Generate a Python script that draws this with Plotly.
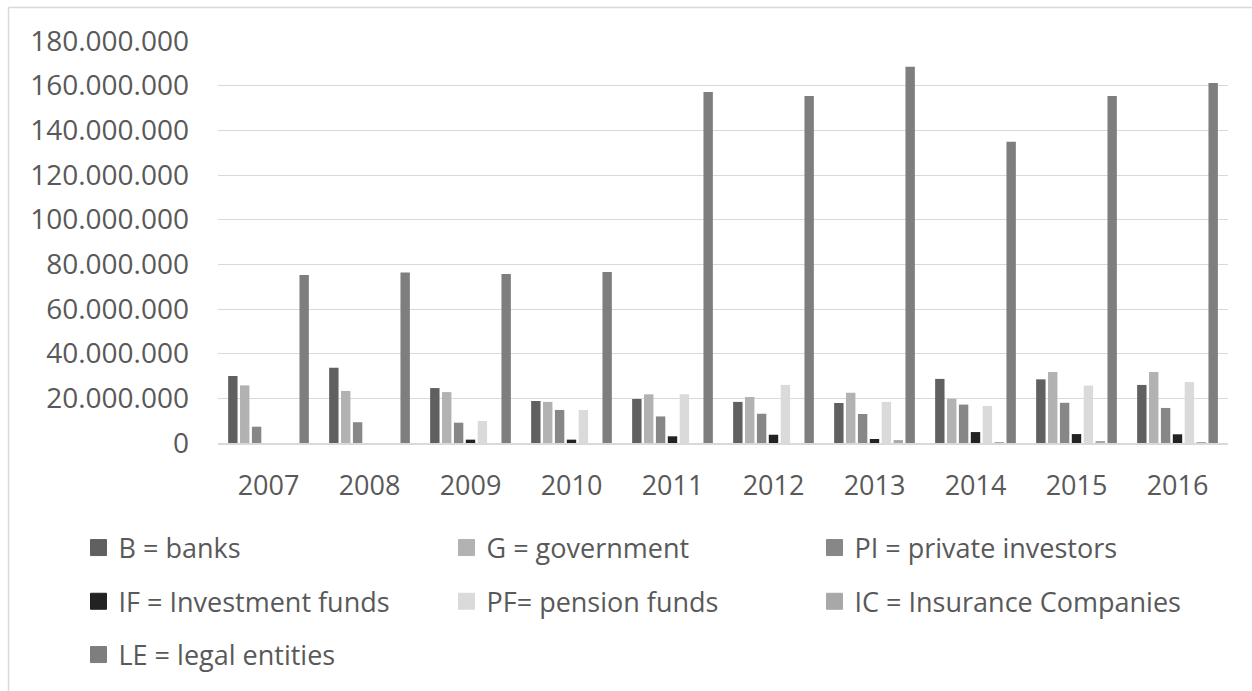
import plotly.graph_objects as go

# Investors by category, per year (amounts)
years = ["2007", "2008", "2009", "2010", "2011", "2012", "2013", "2014", "2015", "2016"]

banks = [30_000_000, 33_700_000, 24_600_000, 18_800_000, 19_700_000,
         18_400_000, 17_900_000, 28_700_000, 28_500_000, 26_000_000]
government = [25_800_000, 23_300_000, 22_800_000, 18_400_000, 21_800_000,
              20_600_000, 22_500_000, 19_800_000, 31_800_000, 31_800_000]
private_investors = [7_300_000, 9_300_000, 9_100_000, 14_800_000, 11_900_000,
                     13_100_000, 13_000_000, 17_200_000, 18_000_000, 15_700_000]
investment_funds = [None, None, 1_500_000, 1_500_000, 3_000_000,
                    3_700_000, 1_800_000, 4_900_000, 4_000_000, 3_900_000]
pension_funds = [None, None, 9_850_000, 14_800_000, 21_800_000,
                 26_000_000, 18_400_000, 16_600_000, 25_700_000, 27_300_000]
insurance_companies = [None, None, None, None, None,
                       None, 1_300_000, 400_000, 900_000, 400_000]
legal_entities = [75_200_000, 76_300_000, 75_700_000, 76_600_000, 157_200_000,
                  155_400_000, 168_500_000, 134_900_000, 155_400_000, 161_200_000]

series_names = ["B = banks", "G = government", "PI = private investors",
                "IF = Investment funds", "PF= pension funds",
                "IC = Insurance Companies", "LE = legal entities"]
series_values = [banks, government, private_investors, investment_funds,
                 pension_funds, insurance_companies, legal_entities]
series_colors = ["#606060", "#b2b2b2", "#878787", "#222222",
                 "#dadada", "#a8a8a8", "#7e7e7e"]
# legend row for each series
legend_rows = ["legend", "legend", "legend", "legend2", "legend2", "legend2", "legend3"]

FONT = "Open Sans"
TEXT_COLOR = "#595959"
GRID_COLOR = "#d9d9d9"

W, H = 1252, 691
L, R, T, B = 218, 24, 41, 248
plot_w = W - L - R
plot_h = H - T - B


def px_x(px):
    return (px - L) / plot_w


def px_y(py):
    return (H - B - py) / plot_h


fig = go.Figure()

for name, vals, color in zip(series_names, series_values, series_colors):
    fig.add_trace(go.Bar(
        x=years, y=vals, name=name,
        marker=dict(color=color, line=dict(width=0)),
        showlegend=False,
    ))

# legend entries with larger square swatches
for name, color, lg in zip(series_names, series_colors, legend_rows):
    fig.add_trace(go.Scatter(
        x=[None], y=[None], mode="markers", name=name,
        marker=dict(symbol="square", size=16, color=color,
                    line=dict(width=1, color=color)),
        legend=lg, showlegend=True,
    ))

legend_common = dict(
    orientation="h", xanchor="left", yanchor="middle",
    font=dict(family=FONT, size=27, color=TEXT_COLOR),
    entrywidth=323, entrywidthmode="pixels",
    bgcolor="rgba(0,0,0,0)", itemclick=False, itemdoubleclick=False,
)

fig.update_layout(
    width=W, height=H,
    margin=dict(l=L, r=R, t=T, b=B, pad=0),
    paper_bgcolor="white", plot_bgcolor="white",
    barmode="group", bargap=0.176, bargroupgap=0.21,
    separators=",.",
    font=dict(family=FONT, color=TEXT_COLOR),
    xaxis=dict(
        type="category", showgrid=False,
        showline=True, linecolor=GRID_COLOR, linewidth=1.5,
        ticks="", tickfont=dict(family=FONT, size=27, color=TEXT_COLOR),
        ticklabelstandoff=18,
    ),
    yaxis=dict(
        range=[0, 180_000_000], dtick=20_000_000, tickformat=",d",
        showgrid=True, gridcolor=GRID_COLOR, gridwidth=1.3,
        zeroline=False, showline=False, ticks="",
        tickfont=dict(family=FONT, size=28, color=TEXT_COLOR),
        ticklabelstandoff=28,
    ),
    legend=dict(x=px_x(78.5), y=px_y(548), **legend_common),
    legend2=dict(x=px_x(78.5), y=px_y(601.7), **legend_common),
    legend3=dict(x=px_x(78.5), y=px_y(655), **legend_common),
    shapes=[
        dict(type="line", xref="paper", yref="paper",
             x0=px_x(8.5), x1=px_x(W + 2), y0=px_y(7.5), y1=px_y(7.5),
             line=dict(color=GRID_COLOR, width=1.5)),
        dict(type="line", xref="paper", yref="paper",
             x0=px_x(8.5), x1=px_x(8.5), y0=px_y(7.5), y1=px_y(H + 2),
             line=dict(color=GRID_COLOR, width=1.5)),
    ],
)

fig.write_html("out.html")
